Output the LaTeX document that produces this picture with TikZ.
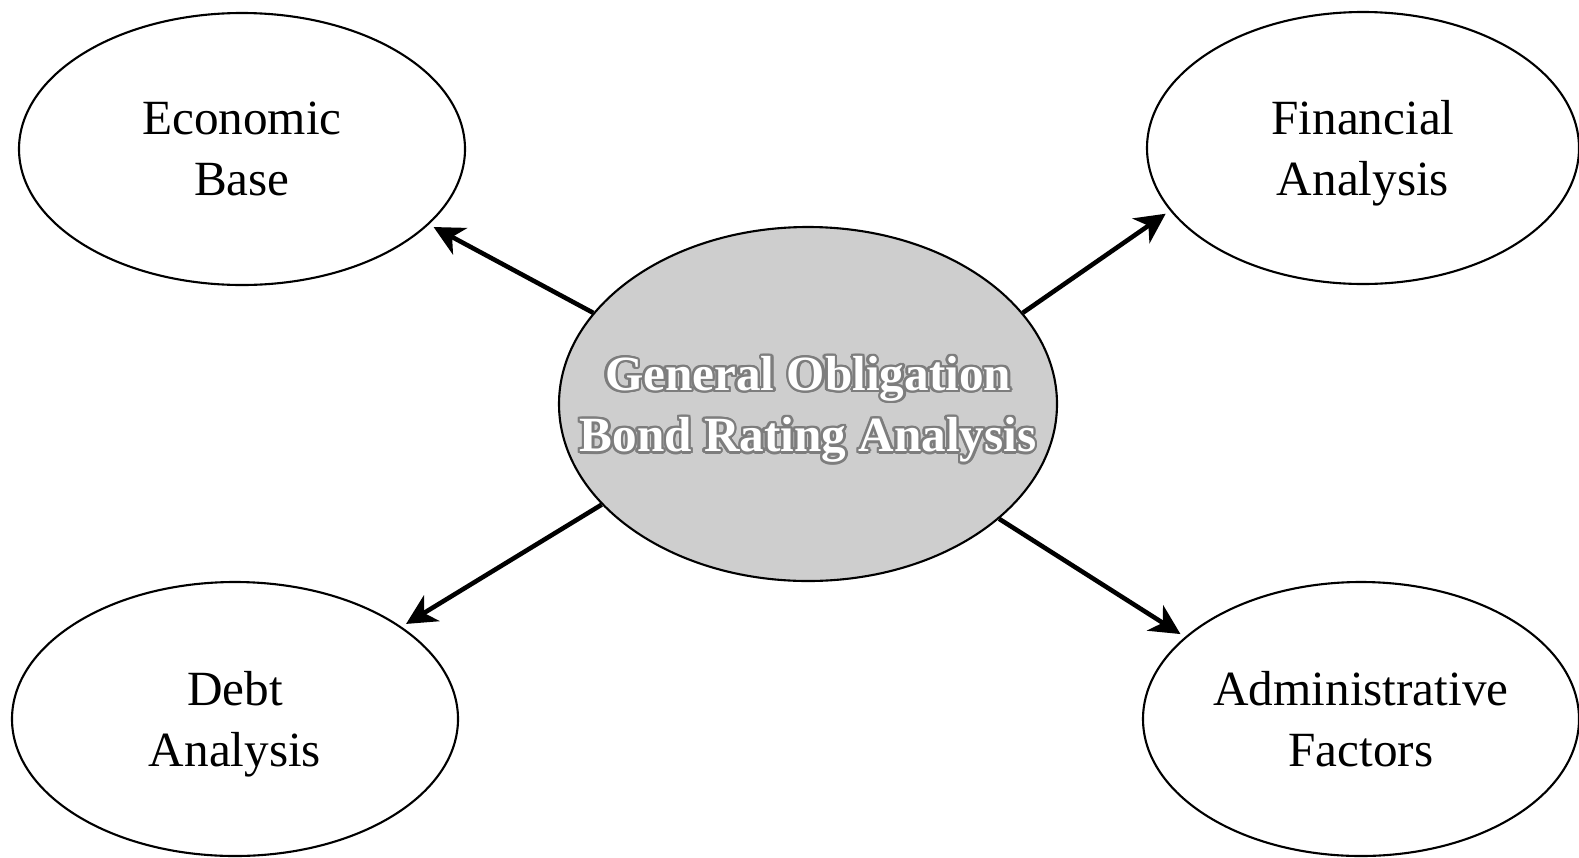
\documentclass[tikz,border=0pt]{standalone}
\usepackage{fontspec}
\setmainfont{Liberation Serif}
\usepackage{contour}
\contourlength{0.7pt}
\usetikzlibrary{shapes.geometric,arrows.meta}

\begin{document}
\begin{tikzpicture}[
    topic/.style={ellipse,draw,line width=0.6pt,align=center,inner sep=0,text depth=0pt,
      font=\fontsize{14}{17.4}\selectfont},
    core/.style={topic,fill=coregray,inner xsep=-0.7cm,
      font=\bfseries\fontsize{14}{17.4}\selectfont,text=white},
    link/.style={line width=1.3pt,-{Stealth[length=3mm,width=3mm,inset=0.9mm]},shorten >=1.5pt}
  ]
    \definecolor{coregray}{RGB}{206,206,206}
    \definecolor{shade}{RGB}{125,125,125}
    \useasboundingbox (0,0) rectangle (15.79,-8.57);
    \node[core,minimum width=4.98cm,minimum height=3.54cm] (gob) at (8.08,-4.04)
      {\contour{shade}{General Obligation}\\\contour{shade}{Bond Rating Analysis}};
    \node[topic,minimum width=4.46cm,minimum height=2.72cm] (econ) at (2.42,-1.49) {Economic\\Base};
    \node[topic,minimum width=4.32cm,minimum height=2.72cm] (fin) at (13.63,-1.48) {Financial\\Analysis};
    \node[topic,minimum width=4.46cm,minimum height=2.74cm] (debt) at (2.35,-7.19) {Debt\\Analysis};
    \node[topic,minimum width=4.36cm,minimum height=2.74cm] (admin) at (13.61,-7.19) {Administrative\\Factors};
    \draw[link] (gob.157.7) -- (econ.-22.4);
    \draw[link] (gob.23.9) -- (fin.-162.5);
    \draw[link] (gob.206.6) -- (debt.29.1);
    \draw[link] (gob.-31.3) -- (admin.155.8);
  \end{tikzpicture}
\end{document}
